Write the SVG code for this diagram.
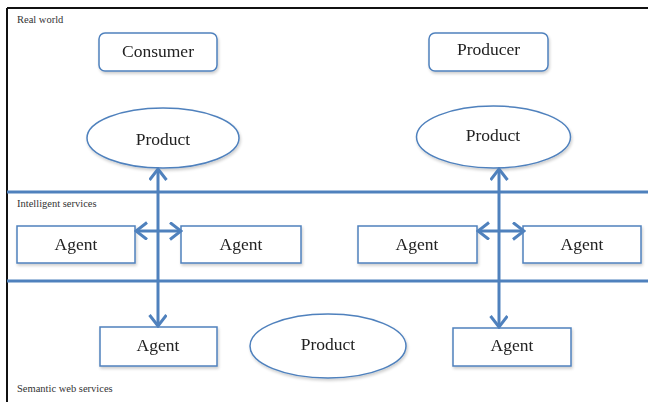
<svg xmlns="http://www.w3.org/2000/svg" width="648" height="402" viewBox="0 0 648 402">
<style>
.box{fill:#fff;stroke:#4f81bd;stroke-width:1.5}
.t{font-family:"Liberation Serif","DejaVu Serif",serif;font-size:17.5px;fill:#222;text-anchor:middle}
.lbl{font-family:"Liberation Serif","DejaVu Serif",serif;font-size:10.5px;fill:#333}
.band{stroke:#4f81bd;stroke-width:3;fill:none}
.arr{stroke:#4f81bd;stroke-width:3;fill:none}
</style>
<defs>
<marker id="ah" markerWidth="14" markerHeight="20" refX="12" refY="9" orient="auto-start-reverse" markerUnits="userSpaceOnUse">
<path d="M1,0.5 L12,9 L1,17.5" fill="none" stroke="#4f81bd" stroke-width="3"/>
</marker>
<filter id="sh" x="-10%" y="-10%" width="130%" height="140%">
<feGaussianBlur in="SourceAlpha" stdDeviation="1.5"/>
<feOffset dx="1" dy="2" result="b"/>
<feComponentTransfer><feFuncA type="linear" slope="0.2"/></feComponentTransfer>
<feMerge><feMergeNode/><feMergeNode in="SourceGraphic"/></feMerge>
</filter>
</defs>
<rect width="648" height="402" fill="#fff"/>
<g id="frame">
<line x1="7" y1="8" x2="648" y2="8" stroke="#111" stroke-width="2"/>
<line x1="7" y1="8" x2="7" y2="402" stroke="#111" stroke-width="2"/>
<line class="band" x1="7" y1="192" x2="648" y2="192"/>
<line class="band" x1="7" y1="281" x2="648" y2="281"/>
<text class="lbl" x="17" y="23">Real world</text>
<text class="lbl" x="17" y="207">Intelligent services</text>
<text class="lbl" x="17" y="392">Semantic web services</text>
</g>
<g id="consumer" filter="url(#sh)">
<rect class="box" x="99" y="33" width="118" height="38" rx="6"/>
<text class="t" x="158" y="57">Consumer</text>
</g>
<g id="producer" filter="url(#sh)">
<rect class="box" x="429" y="33" width="119" height="38" rx="6"/>
<text class="t" x="488.5" y="55">Producer</text>
</g>
<g id="product-left" filter="url(#sh)">
<ellipse class="box" cx="163" cy="138" rx="76" ry="30"/>
<text class="t" x="163" y="145">Product</text>
</g>
<g id="product-right" filter="url(#sh)">
<ellipse class="box" cx="493.5" cy="137" rx="77" ry="31"/>
<text class="t" x="493" y="141">Product</text>
</g>
<g id="agent-1" filter="url(#sh)">
<rect class="box" x="17" y="226" width="118" height="37"/>
<text class="t" x="76" y="250">Agent</text>
</g>
<g id="agent-2" filter="url(#sh)">
<rect class="box" x="181" y="226" width="120" height="37"/>
<text class="t" x="241" y="250">Agent</text>
</g>
<g id="agent-3" filter="url(#sh)">
<rect class="box" x="358" y="226" width="119" height="37"/>
<text class="t" x="417" y="250">Agent</text>
</g>
<g id="agent-4" filter="url(#sh)">
<rect class="box" x="523" y="226" width="118" height="37"/>
<text class="t" x="582" y="250">Agent</text>
</g>
<g id="agent-5" filter="url(#sh)">
<rect class="box" x="100" y="327" width="117" height="39"/>
<text class="t" x="158" y="351">Agent</text>
</g>
<g id="product-bottom" filter="url(#sh)">
<ellipse class="box" cx="328" cy="346" rx="78" ry="32"/>
<text class="t" x="328" y="350">Product</text>
</g>
<g id="agent-6" filter="url(#sh)">
<rect class="box" x="453" y="328" width="118" height="38"/>
<text class="t" x="512" y="351">Agent</text>
</g>
<g id="connectors">
<line class="arr" x1="158" y1="169" x2="158" y2="326" marker-start="url(#ah)" marker-end="url(#ah)"/>
<line class="arr" x1="499" y1="169" x2="499" y2="327" marker-start="url(#ah)" marker-end="url(#ah)"/>
<line class="arr" x1="136" y1="231" x2="181" y2="231" marker-start="url(#ah)" marker-end="url(#ah)"/>
<line class="arr" x1="478" y1="231" x2="524" y2="231" marker-start="url(#ah)" marker-end="url(#ah)"/>
</g>
</svg>
